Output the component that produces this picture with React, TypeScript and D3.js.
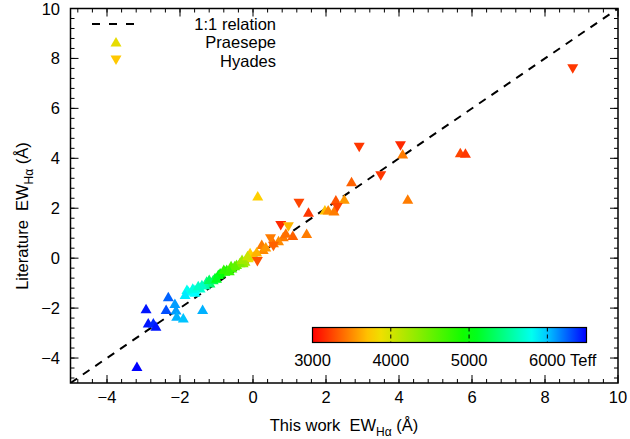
import React from "react";
import * as d3 from "d3";

// Praesepe (up triangles)
const praesepeX = [5.68, 5.82, 4.10, 4.24, 2.70, 2.27, 2.50, 1.97, 2.06, 2.22, 0.13, 1.52, 1.47, 1.09, 0.83, 0.24, 0.28, 0.56,
  -0.08, 0.01, -0.13, -0.22, -0.27, -0.45, -0.36, -0.58, -0.72, -0.77, -0.90, -1.04, -1.09, -1.18, -1.27, -1.31, -1.40, -1.45,
  -1.59, -1.59, -1.77, -1.81, -1.86, -1.38, -2.93, -2.32, -2.38, -2.14, -2.11, -2.09, -1.91, -2.87, -2.73, -2.66, -3.18,
  -0.60, -0.95, -1.20, -0.50, -0.30, -0.15, 0.10, 0.35, 0.70, 0.90, -1.65, -1.50, -0.80, -0.65, -1.00];
const praesepeY = [4.22, 4.20, 4.17, 2.36, 3.06, 2.33, 2.36, 1.93, 1.93, 1.89, 2.49, 1.84, 0.99, 0.91, 0.86, 0.55, 0.35, 0.62,
  0.22, 0.08, 0.02, -0.12, -0.18, -0.25, -0.18, -0.39, -0.45, -0.52, -0.59, -0.78, -0.86, -0.99, -0.92, -1.06, -1.06, -1.19,
  -1.26, -1.37, -1.33, -1.26, -1.46, -2.06, -2.03, -1.55, -2.06, -1.82, -2.08, -2.33, -2.40, -2.60, -2.60, -2.73, -4.34,
  -0.30, -0.65, -0.85, -0.30, -0.05, 0.10, 0.25, 0.45, 0.70, 1.00, -1.20, -1.10, -0.45, -0.50, -0.80];
const praesepeTeff = [3250, 3200, 3450, 3450, 3350, 3300, 3550, 3700, 3500, 3450, 3750, 3200, 3450, 3350, 3450, 3450, 3500, 3400,
  3750, 3700, 3900, 4200, 4300, 4500, 4400, 4700, 4850, 4950, 5000, 5150, 5250, 5350, 5450, 5550, 5650, 5700,
  5800, 5850, 5850, 5800, 5900, 6050, 6450, 6250, 6300, 6100, 6100, 6050, 6000, 6450, 6400, 6450, 6500,
  4600, 5050, 5300, 4550, 4250, 4050, 3650, 3550, 3500, 3400, 5750, 5650, 4800, 4750, 5100];

// Hyades (down triangles)
const hyadesX = [8.76, 4.04, 3.50, 2.91, 2.31, 1.26, 0.76, 0.97, 0.48, 0.56, 0.12];
const hyadesY = [7.59, 4.50, 3.30, 4.44, 2.03, 2.20, 1.31, 1.26, 0.78, 0.48, -0.13];
const hyadesTeff = [3200, 3150, 3200, 3200, 3250, 3250, 3150, 3650, 3450, 3350, 3300];

const xTicks = [-4, -2, 0, 2, 4, 6, 8, 10];
const yTicks = [-4, -2, 0, 2, 4, 6, 8, 10];
const cbTicks = [3000, 4000, 5000, 6000];
const legendLabels = ["1:1 relation", "Praesepe", "Hyades"];

const W = 630, H = 439;
const L = 70.5, R = 618, T = 8.5, B = 383;
const FONT = "'Liberation Sans', Arial, Helvetica, sans-serif";
const fmt = (v: number) => (v < 0 ? "\u2212" + Math.abs(v) : String(v));

export default function App() {
  const x = d3.scaleLinear().domain([-5, 10]).range([L, R]);
  const y = d3.scaleLinear().domain([-5, 10]).range([B, T]);
  const color = d3.scaleLinear<string>()
    .domain([3000, 3800, 5000, 5850, 6500])
    .range(["#ff0000", "#ffdd00", "#00ff00", "#00ffff", "#0000ff"])
    .clamp(true);
  const cb = d3.scaleLinear().domain([3000, 6500]).range([312.5, 586.5]);
  const cbTop = 327.5, cbBot = 342.5;

  const up = (cx: number, cy: number) => `M${cx - 5.5},${cy + 4.5}L${cx + 5.5},${cy + 4.5}L${cx},${cy - 5}Z`;
  const down = (cx: number, cy: number) => `M${cx - 5.5},${cy - 4.5}L${cx + 5.5},${cy - 4.5}L${cx},${cy + 5}Z`;

  const minorXs = d3.range(0, 38).map((i) => -4.8 + 0.4 * i).filter((v) => v > -5 && v < 10);
  const minorY = minorXs;

  const gradStops = d3.range(0, 21).map((i) => 3000 + (3500 * i) / 20);

  return (
    <svg width={W} height={H} style={{ position: "absolute", left: 0, top: 0, background: "#fff" }} fontFamily={FONT}>
      <defs>
        <linearGradient id="cbg" x1="0" x2="1" y1="0" y2="0">
          {gradStops.map((t, i) => (
            <stop key={i} offset={(t - 3000) / 3500} stopColor={color(t)} />
          ))}
        </linearGradient>
        <clipPath id="plotclip">
          <rect x={L} y={T} width={R - L} height={B - T} />
        </clipPath>
      </defs>

      {/* 1:1 line */}
      <line x1={x(-5)} y1={y(-5)} x2={x(10)} y2={y(10)} stroke="#000" strokeWidth={2} strokeDasharray="8,7" clipPath="url(#plotclip)" />

      {/* points */}
      <g clipPath="url(#plotclip)">
        {praesepeX.map((v, i) => (
          <path key={"p" + i} d={up(x(v), y(praesepeY[i]))} fill={color(praesepeTeff[i])} />
        ))}
        {hyadesX.map((v, i) => (
          <path key={"h" + i} d={down(x(v), y(hyadesY[i]))} fill={color(hyadesTeff[i])} />
        ))}
      </g>

      {/* frame */}
      <rect x={L} y={T} width={R - L} height={B - T} fill="none" stroke="#000" strokeWidth={1.5} />

      {/* ticks */}
      <g stroke="#000" strokeWidth={1}>
        {xTicks.map((v) => (
          <g key={"xt" + v}>
            <line x1={x(v)} x2={x(v)} y1={B} y2={B - 8} />
            <line x1={x(v)} x2={x(v)} y1={T} y2={T + 8} />
          </g>
        ))}
        {minorXs.map((v, i) => (
          <g key={"xm" + i}>
            <line x1={x(v)} x2={x(v)} y1={B} y2={B - 4} />
            <line x1={x(v)} x2={x(v)} y1={T} y2={T + 4} />
          </g>
        ))}
        {yTicks.map((v) => (
          <g key={"yt" + v}>
            <line x1={L} x2={L + 8} y1={y(v)} y2={y(v)} />
            <line x1={R} x2={R - 8} y1={y(v)} y2={y(v)} />
          </g>
        ))}
        {minorY.map((v, i) => (
          <g key={"ym" + i}>
            <line x1={L} x2={L + 4} y1={y(v)} y2={y(v)} />
            <line x1={R} x2={R - 4} y1={y(v)} y2={y(v)} />
          </g>
        ))}
      </g>

      {/* tick labels */}
      <g fontSize={16.5} fill="#000">
        {xTicks.map((v) => (
          <text key={"xl" + v} x={x(v)} y={403} textAnchor="middle">{fmt(v)}</text>
        ))}
        {yTicks.map((v) => (
          <text key={"yl" + v} x={60} y={y(v) + 6} textAnchor="end">{fmt(v)}</text>
        ))}
      </g>

      {/* axis titles */}
      <text x={344} y={431} textAnchor="middle" fontSize={16.5}>
        {"This work\u00a0\u00a0EW"}<tspan fontSize={12} dy={5}>Hα</tspan><tspan dy={-5}>{"\u00a0(Å)"}</tspan>
      </text>
      <text transform="translate(28,216) rotate(-90)" textAnchor="middle" fontSize={16.5}>
        {"Literature\u00a0\u00a0EW"}<tspan fontSize={12} dy={5}>Hα</tspan><tspan dy={-5}>{"\u00a0(Å)"}</tspan>
      </text>

      {/* legend */}
      <g fontSize={16.5}>
        <line x1={92} x2={135} y1={24} y2={24} stroke="#000" strokeWidth={2} strokeDasharray="8,9" />
        <text x={276} y={30} textAnchor="end">{legendLabels[0]}</text>
        <path d={up(116, 42)} fill="#e6dc00" />
        <text x={276} y={48} textAnchor="end">{legendLabels[1]}</text>
        <path d={down(116, 60)} fill="#ffc800" />
        <text x={276} y={67} textAnchor="end">{legendLabels[2]}</text>
      </g>

      {/* colorbar */}
      <rect x={cb(3000)} y={cbTop} width={cb(6500) - cb(3000)} height={cbBot - cbTop} fill="url(#cbg)" stroke="#000" strokeWidth={1.2} />
      {cbTicks.slice(1).map((t) => (
        <line key={"cbt" + t} x1={cb(t)} x2={cb(t)} y1={cbTop} y2={cbBot} stroke="#000" strokeWidth={1} strokeDasharray="4,3" />
      ))}
      <g fontSize={16.5}>
        {cbTicks.map((t) => (
          <text key={"cbl" + t} x={cb(t)} y={366} textAnchor="middle">{t}</text>
        ))}
        <text x={570} y={366}>Teff</text>
      </g>
    </svg>
  );
}
